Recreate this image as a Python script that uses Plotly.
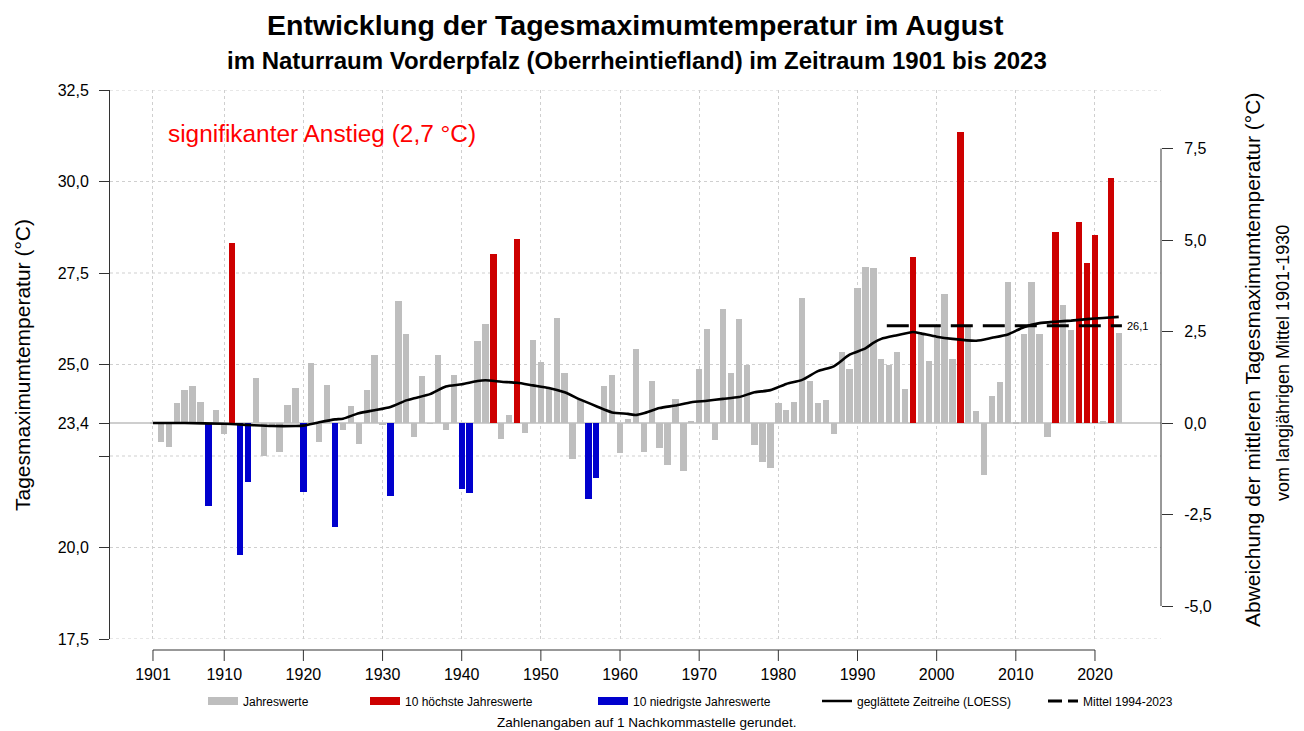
import plotly.graph_objects as go

# ---------------- data ----------------
YEARS = list(range(1901, 2024))
BASE = 23.4  # long-term mean 1901-1930
# deviations of the August mean daily maximum from the 1901-1930 mean (°C)
DEV = [
    0.02, -0.53, -0.66, 0.54, 0.89, 1.00, 0.57, -2.26, 0.37, -0.31,      # 1901-1910
    4.93, -3.61, -1.60, 1.22, -0.90, -0.08, -0.78, 0.48, 0.97, -1.89,     # 1911-1920
    1.63, -0.53, 1.05, -2.83, -0.18, 0.46, -0.56, 0.90, 1.85, -0.06,      # 1921-1930
    -1.99, 3.34, 2.42, -0.39, 1.29, -0.02, 1.86, -0.19, 1.32, -1.81,      # 1931-1940
    -1.90, 2.24, 2.70, 4.61, -0.43, 0.23, 5.04, -0.26, 2.28, 1.66,        # 1941-1950
    0.96, 2.86, 1.36, -0.97, 0.64, -2.07, -1.50, 1.00, 1.31, -0.82,       # 1951-1960
    0.11, 2.01, -0.78, 1.15, -0.69, -1.14, 0.66, -1.30, 0.07, 1.48,       # 1961-1970
    2.58, -0.47, 3.13, 1.38, 2.83, 1.58, -0.60, -1.07, -1.23, 0.55,       # 1971-1980
    0.35, 0.57, 3.42, 1.14, 0.55, 0.62, -0.30, 1.94, 1.47, 3.68,          # 1981-1990
    4.26, 4.24, 1.75, 1.60, 1.94, 0.94, 4.54, 2.42, 1.69, 2.68,           # 1991-2000
    3.54, 1.74, 7.95, 2.65, 0.32, -1.42, 0.75, 1.11, 3.85, 0.03,          # 2001-2010
    2.44, 3.85, 2.44, -0.39, 5.22, 3.22, 2.53, 5.48, 4.37, 5.13,          # 2011-2020
    0.05, 6.69, 2.45,                                                     # 2021-2023
]
TMAX = [round(BASE + d, 2) for d in DEV]

# LOESS-smoothed series (deviation, °C) read at points along the curve
LOESS_YEARS = [1901, 1905, 1910, 1913, 1916, 1919, 1920, 1922, 1924, 1925, 1927, 1929, 1931,
               1933, 1934, 1936, 1938, 1940, 1942, 1943, 1945, 1947, 1949, 1951, 1953, 1955,
               1957, 1959, 1961, 1962, 1963, 1965, 1967, 1969, 1971, 1973, 1975, 1977, 1979,
               1981, 1983, 1985, 1987, 1989, 1991, 1992, 1993, 1995, 1997, 1998, 2000, 2002,
               2005, 2007, 2009, 2011, 2013, 2015, 2017, 2019, 2021, 2023]
LOESS_DEV = [0.0, 0.0, -0.02, -0.05, -0.08, -0.08, -0.07, 0.02, 0.10, 0.12, 0.27, 0.35, 0.44,
             0.62, 0.68, 0.79, 1.00, 1.06, 1.15, 1.17, 1.13, 1.10, 1.03, 0.96, 0.84, 0.64,
             0.46, 0.29, 0.25, 0.22, 0.27, 0.41, 0.48, 0.57, 0.61, 0.66, 0.71, 0.84, 0.90,
             1.07, 1.18, 1.42, 1.55, 1.87, 2.04, 2.19, 2.30, 2.40, 2.49, 2.45, 2.36, 2.30,
             2.25, 2.33, 2.42, 2.62, 2.73, 2.77, 2.80, 2.84, 2.87, 2.90]

MEAN_START, MEAN_END = 1994, 2023
X_TICKS = [1901, 1910, 1920, 1930, 1940, 1950, 1960, 1970, 1980, 1990, 2000, 2010, 2020]
Y_TICKS = [17.5, 20.0, 22.5, 23.4, 25.0, 27.5, 30.0, 32.5]
Y_TICK_TEXT = ["17,5", "20,0", "", "23,4", "25,0", "27,5", "30,0", "32,5"]
Y_GRID = [17.5, 20.0, 22.5, 25.0, 27.5, 30.0, 32.5]
Y2_TICKS = [-5.0, -2.5, 0.0, 2.5, 5.0, 7.5]
Y2_TICK_TEXT = ["-5,0", "-2,5", "0,0", "2,5", "5,0", "7,5"]

TITLE = "Entwicklung der Tagesmaximumtemperatur im August"
SUBTITLE = "im Naturraum Vorderpfalz (Oberrheintiefland) im Zeitraum 1901 bis 2023"
TREND_TEXT = "signifikanter Anstieg (2,7 °C)"

# ---------------- styling / layout geometry ----------------
FONT = "Liberation Sans, Arial, sans-serif"
GRAY, RED, BLUE = "#BEBEBE", "#CD0000", "#0000CD"
AX = "#333333"
GRID = "#CFCFCF"

OFF = 8                       # page body margin
FIG_W, FIG_H = 1304 - OFF, 731 - OFF
# plot area in screen pixels
S_L, S_R, S_T, S_B = 110, 1161, 90, 639
PLOT_L, PLOT_R, PLOT_T, PLOT_B = S_L - OFF, S_R - OFF, S_T - OFF, S_B - OFF
PW, PH = PLOT_R - PLOT_L, PLOT_B - PLOT_T


def px(sx):
    """screen x pixel -> paper x"""
    return (sx - S_L) / PW


def py(sy):
    """screen y pixel -> paper y"""
    return (S_B - sy) / PH


X_RANGE = [1895.57, 2028.34]
Y_RANGE = [17.5, 32.5]
Y2_RANGE = [Y_RANGE[0] - BASE, Y_RANGE[1] - BASE]

# classify top/bottom 10
order = sorted(range(len(TMAX)), key=lambda i: TMAX[i])
low10 = set(order[:10])
high10 = set(order[-10:])

fig = go.Figure()


def add_bars(idx, color):
    fig.add_trace(go.Bar(
        x=[YEARS[i] for i in idx],
        y=[TMAX[i] - BASE for i in idx],
        base=BASE,
        width=0.8,
        marker=dict(color=color, line=dict(width=0)),
        showlegend=False,
        hoverinfo="x+y",
    ))


normal = [i for i in range(len(TMAX)) if i not in low10 and i not in high10]
add_bars(normal, GRAY)
add_bars(sorted(high10), RED)
add_bars(sorted(low10), BLUE)

# LOESS
fig.add_trace(go.Scatter(
    x=LOESS_YEARS, y=[BASE + v for v in LOESS_DEV], mode="lines",
    line=dict(color="black", width=2.6, shape="spline", smoothing=0.6),
    showlegend=False,
))

# mean 1994-2023
sel = [TMAX[i] for i, y in enumerate(YEARS) if MEAN_START <= y <= MEAN_END]
mean_val = sum(sel) / len(sel)
fig.add_trace(go.Scatter(
    x=[MEAN_START - 0.3, MEAN_END + 0.4], y=[mean_val, mean_val], mode="lines",
    line=dict(color="black", width=3, dash="22px,10px"),
    showlegend=False,
))
fig.add_annotation(x=MEAN_END + 0.8, y=mean_val, text=f"{mean_val:.1f}".replace(".", ","),
                   showarrow=False, xanchor="left", yanchor="middle",
                   font=dict(family=FONT, size=11, color="black"))

# right axis dummy trace
fig.add_trace(go.Scatter(x=[None], y=[None], yaxis="y2", showlegend=False))

# legend traces (each in its own legend)
leg_items = [
    ("Jahreswerte", dict(color=GRAY, width=8), 243),
    ("10 höchste Jahreswerte", dict(color=RED, width=8), 405),
    ("10 niedrigste Jahreswerte", dict(color=BLUE, width=8), 633),
    ("geglättete Zeitreihe (LOESS)", dict(color="black", width=2.5), 857),
    ("Mittel 1994-2023", dict(color="black", width=3, dash="14px,6px"), 1083),
]
legend_layouts = {}
for k, (name, line, tx) in enumerate(leg_items):
    lname = "legend" if k == 0 else f"legend{k + 1}"
    fig.add_trace(go.Scatter(x=[None], y=[None], mode="lines", name=name, line=line,
                             legend=lname, showlegend=True))
    legend_layouts[lname] = dict(
        x=px(tx - 40), xanchor="left",
        y=py(701), yanchor="middle",
        orientation="h", bgcolor="rgba(0,0,0,0)", borderwidth=0,
        font=dict(family=FONT, size=12, color="black"),
        itemwidth=30, tracegroupgap=0,
    )

shapes = []
# horizontal dotted gridlines
for g in Y_GRID:
    shapes.append(dict(type="line", xref="paper", x0=0, x1=1, yref="y", y0=g, y1=g,
                       line=dict(color=GRID, width=1, dash="dot"), layer="below"))
# baseline at 23.4
shapes.append(dict(type="line", xref="paper", x0=0, x1=1, yref="y", y0=BASE, y1=BASE,
                   line=dict(color=GRAY, width=1.5), layer="below"))
# x axis line R-style
x_line_y = py(650)
x_tick_y = py(661)
shapes.append(dict(type="line", xref="x", x0=X_TICKS[0], x1=X_TICKS[-1], yref="paper",
                   y0=x_line_y, y1=x_line_y, line=dict(color=AX, width=1)))
for t in X_TICKS:
    shapes.append(dict(type="line", xref="x", x0=t, x1=t, yref="paper",
                       y0=x_line_y, y1=x_tick_y, line=dict(color=AX, width=1)))
# right axis line
shapes.append(dict(type="line", xref="paper", x0=1, x1=1, yref="y2",
                   y0=Y2_TICKS[0], y1=Y2_TICKS[-1], line=dict(color=AX, width=1)))

annotations = [
    dict(text=f"<b>{TITLE}</b>", x=px(635), y=py(24.5), size=28.5, xanchor="center"),
    dict(text=f"<b>{SUBTITLE}</b>", x=px(637), y=py(60.5), size=24, xanchor="center"),
    dict(text=TREND_TEXT, x=px(166), y=py(133), size=24.4, xanchor="left", color="#FF0000"),
    dict(text="Tagesmaximumtemperatur (°C)", x=px(22), y=py(365), size=21,
         xanchor="center", angle=-90),
    dict(text="Abweichung der mittleren Tagesmaximumtemperatur (°C)", x=px(1252),
         y=py(360), size=21, xanchor="center", angle=-90),
    dict(text="vom langjährigen Mittel 1901-1930", x=px(1283), y=py(363), size=18,
         xanchor="center", angle=-90),
    dict(text="Zahlenangaben auf 1 Nachkommastelle gerundet.", x=px(646), y=py(722),
         size=13.5, xanchor="center"),
]
for a in annotations:
    fig.add_annotation(text=a["text"], x=a["x"], y=a["y"], xref="paper", yref="paper",
                       showarrow=False, xanchor=a["xanchor"], yanchor="middle",
                       textangle=a.get("angle", 0),
                       font=dict(family=FONT, size=a["size"], color=a.get("color", "black")))

fig.update_layout(
    width=FIG_W, height=FIG_H,
    margin=dict(l=PLOT_L, r=FIG_W - PLOT_R, t=PLOT_T, b=FIG_H - PLOT_B, pad=0, autoexpand=False),
    paper_bgcolor="white", plot_bgcolor="white",
    font=dict(family=FONT, color="black"),
    barmode="overlay", bargap=0,
    shapes=shapes,
    xaxis=dict(range=X_RANGE, tickvals=X_TICKS, ticktext=[str(t) for t in X_TICKS],
               showgrid=True, gridcolor=GRID, griddash="dot", gridwidth=1,
               ticks="", showline=False, zeroline=False, ticklabelstandoff=24,
               tickfont=dict(family=FONT, size=16, color="black")),
    yaxis=dict(range=Y_RANGE, tickvals=Y_TICKS, ticktext=Y_TICK_TEXT,
               showgrid=False, zeroline=False,
               showline=True, linecolor=AX, linewidth=1,
               ticks="outside", ticklen=10, tickcolor=AX, tickwidth=1, ticklabelstandoff=7,
               tickfont=dict(family=FONT, size=16, color="black")),
    yaxis2=dict(range=Y2_RANGE, overlaying="y", side="right", tickvals=Y2_TICKS,
                ticktext=Y2_TICK_TEXT, showgrid=False, zeroline=False, showline=False,
                ticks="outside", ticklen=11, tickcolor=AX, tickwidth=1, ticklabelstandoff=8,
                tickfont=dict(family=FONT, size=16, color="black")),
    **legend_layouts,
)

fig.write_html("out.html")
